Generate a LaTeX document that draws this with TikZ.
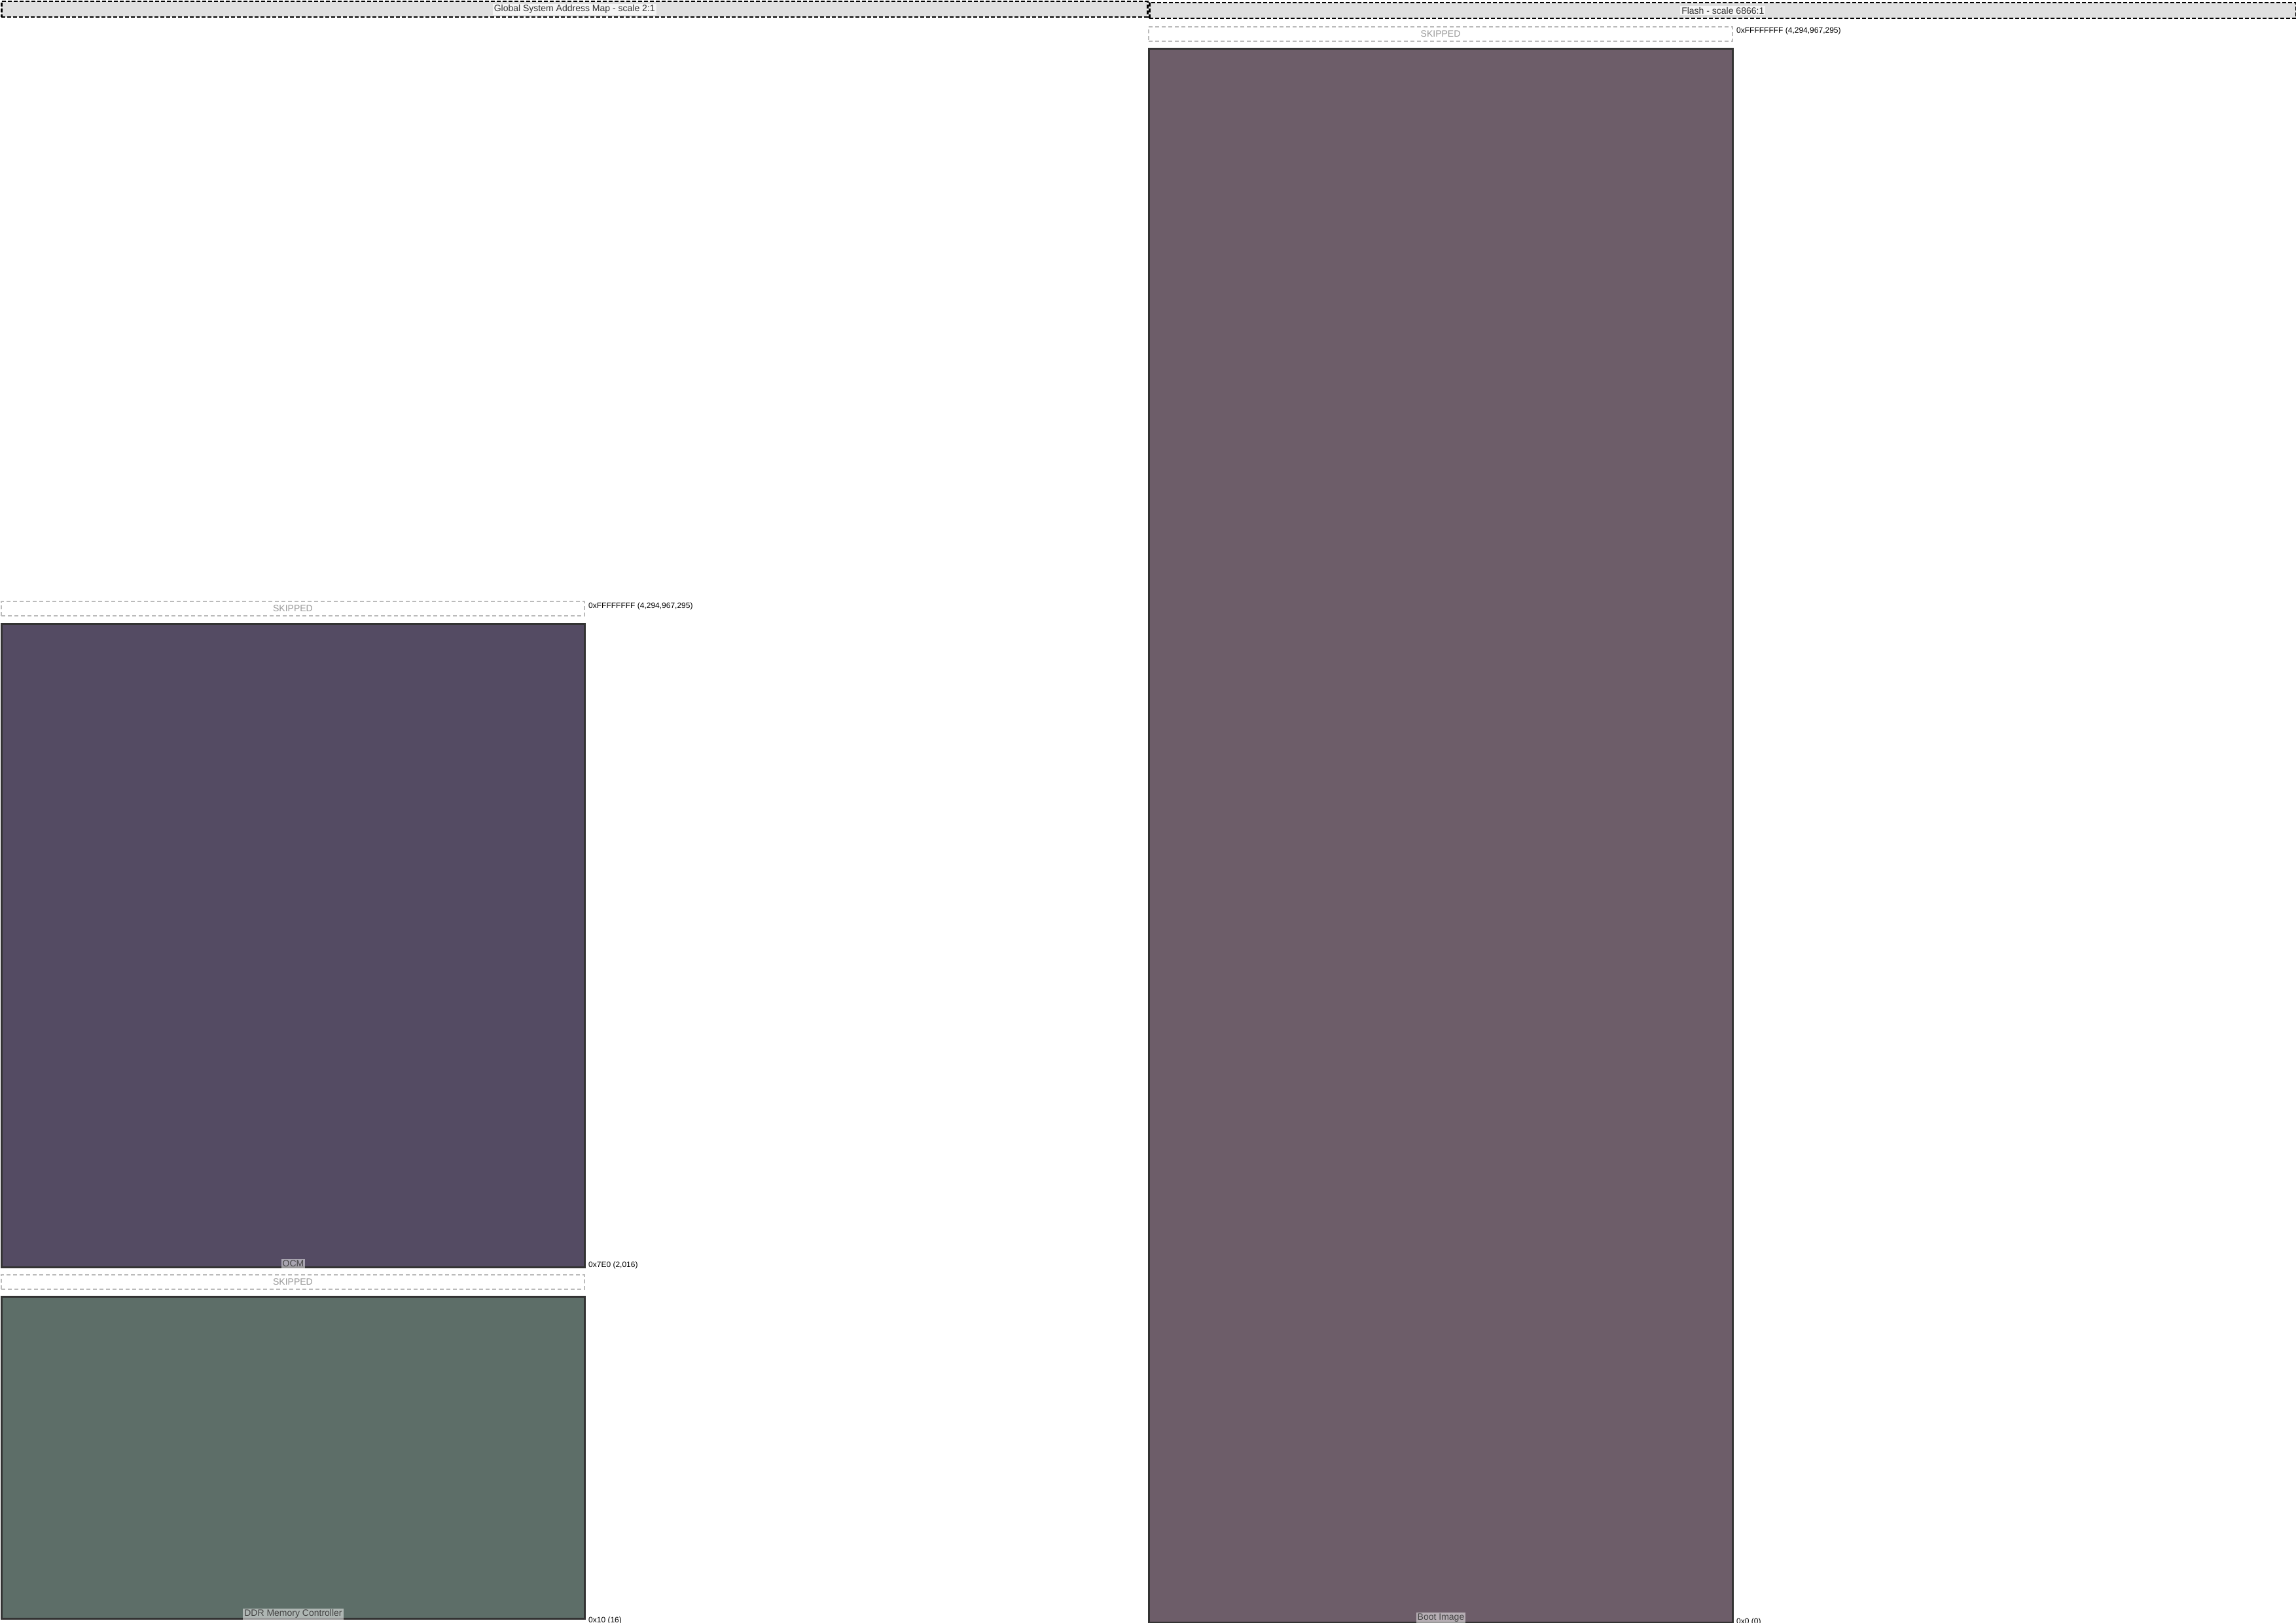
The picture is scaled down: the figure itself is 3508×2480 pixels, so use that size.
\documentclass[tikz,border=0pt]{standalone}
\usepackage{fontspec}
\setmainfont{Liberation Sans}
\definecolor{hdrgray}{HTML}{E0E0E0}
\definecolor{skipgray}{HTML}{BBBBBB}
\definecolor{skiptext}{HTML}{999999}
\definecolor{regborder}{HTML}{333333}
\definecolor{ocmfill}{HTML}{544B63}
\definecolor{ddrfill}{HTML}{5D6E68}
\definecolor{bootfill}{HTML}{6D5D69}
\definecolor{tagtext}{HTML}{444444}
\tikzset{
  hdr/.style={draw=black, line width=2.5pt, dash pattern=on 6pt off 3pt, fill=hdrgray, inner sep=0pt, anchor=north west},
  hdrtext/.style={fill=white, fill opacity=0.7, text opacity=1, inner sep=2pt, text=black!80, font=\fontsize{14}{16}\selectfont},
  skipbox/.style={draw=skipgray, line width=2pt, dash pattern=on 6pt off 4pt, fill=white, inner sep=0pt, anchor=north west},
  skiptxt/.style={text=skiptext, inner sep=0pt, font=\fontsize{14}{16}\selectfont},
  region/.style={draw=regborder, line width=3pt, inner sep=0pt, anchor=north west},
  tag/.style={fill=white, fill opacity=0.5, text opacity=1, text=tagtext, inner sep=2pt, anchor=south, font=\fontsize{14}{16}\selectfont},
  addr/.style={anchor=west, inner sep=0pt, text=black, font=\fontsize{12}{14}\selectfont},
}
\begin{document}
\begin{tikzpicture}[x=1pt, y=-1pt]
\useasboundingbox (0,0) rectangle (3508,2480);
% headers
\node[hdr, minimum width=1751pt, minimum height=24pt] (hdrL) at (1,1) {};
\node[hdrtext] (hdrLt) at (hdrL.center) {Global System Address Map - scale 2:1};
\node[hdr, minimum width=1752pt, minimum height=24pt] (hdrR) at (1755,3) {};
\node[hdrtext] (hdrRt) at (hdrR.center) {Flash - scale 6866:1};
% left column
\node[skipbox, minimum width=891pt, minimum height=22pt] (skipA) at (1,918) {};
\node[skiptxt] (skipAt) at (skipA.center) {SKIPPED};
\node[addr] (addrA) at (899,926) {0xFFFFFFFF (4,294,967,295)};
\node[region, fill=ocmfill, minimum width=891pt, minimum height=983pt] (ocm) at (1,952) {};
\node[tag] (ocmt) at (ocm.south) {OCM};
\node[addr] (addrB) at (899,1933) {0x7E0 (2,016)};
\node[skipbox, minimum width=891pt, minimum height=22pt] (skipB) at (1,1947) {};
\node[skiptxt] (skipBt) at (skipB.center) {SKIPPED};
\node[region, fill=ddrfill, minimum width=891pt, minimum height=492pt] (ddr) at (1,1980) {};
\node[tag] (ddrt) at (ddr.south) {DDR Memory Controller};
\node[addr] (addrC) at (899,2476) {0x10 (16)};
% right column
\node[skipbox, minimum width=892pt, minimum height=22pt] (skipC) at (1754,40) {};
\node[skiptxt] (skipCt) at (skipC.center) {SKIPPED};
\node[addr] (addrD) at (2653,47) {0xFFFFFFFF (4,294,967,295)};
\node[region, fill=bootfill, minimum width=892pt, minimum height=2405pt] (boot) at (1754,73) {};
\node[tag] (boott) at (boot.south) {Boot Image};
\node[addr] (addrE) at (2653,2478) {0x0 (0)};
\end{tikzpicture}
\end{document}
